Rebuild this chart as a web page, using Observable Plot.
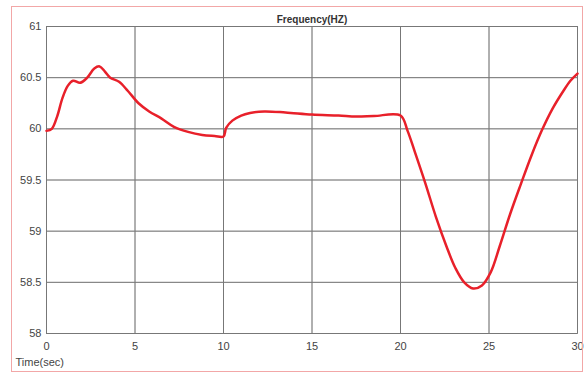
<!DOCTYPE html>
<html>
<head>
<meta charset="utf-8">
<script src="https://cdn.jsdelivr.net/npm/d3@7"></script>
<script src="https://cdn.jsdelivr.net/npm/@observablehq/plot@0.6"></script>
<style>
  html, body { margin: 0; padding: 0; background: #fff; }
  #wrap { position: relative; width: 584px; height: 373px; }
  #border { position: absolute; left: 11px; top: 6px; width: 570px; height: 364px; border: 1px solid #f2a7a7; pointer-events: none; }
</style>
</head>
<body>
<div id="wrap"><div id="border"></div></div>
<script>
const title = "Frequency(HZ)";
const xLabel = "Time(sec)";
const xTicks = [0, 5, 10, 15, 20, 25, 30];
const yTicks = [58, 58.5, 59, 59.5, 60, 60.5, 61];
const time = [0, 0.3, 0.6, 0.9, 1.2, 1.5, 1.9, 2.3, 2.7, 3.0, 3.3, 3.6, 4.1, 4.6, 5.2, 5.8, 6.5, 7.2, 8.0, 8.8, 9.5, 10.0,
  10.15, 10.5, 11.0, 11.5, 12.3, 13.5, 15.0, 16.5, 17.5, 18.5, 20.0,
  20.4, 20.8, 21.4, 22.0, 22.6, 23.1, 23.6, 24.1, 24.6, 25.1, 25.6, 26.2, 26.8, 27.4, 28.0, 28.6, 29.2, 29.6, 30.0];
const freq = [59.98, 60.0, 60.12, 60.3, 60.42, 60.47, 60.45, 60.5, 60.59, 60.61, 60.56, 60.5, 60.46, 60.37, 60.25, 60.17, 60.1, 60.02, 59.97, 59.94, 59.93, 59.925,
  60.01, 60.08, 60.13, 60.155, 60.17, 60.16, 60.14, 60.13, 60.12, 60.125, 60.13,
  59.98, 59.78, 59.47, 59.14, 58.85, 58.64, 58.5, 58.44, 58.47, 58.6, 58.85, 59.17, 59.46, 59.74, 59.99, 60.2, 60.37, 60.47, 60.54];

const data = time.map((t, i) => ({t, f: freq[i]}));

const chart = Plot.plot({
  width: 584,
  height: 373,
  marginLeft: 46,
  marginRight: 7,
  marginTop: 26,
  marginBottom: 40,
  style: {background: "transparent", fontFamily: "Liberation Sans, Arial, sans-serif", fontSize: "11px", color: "#444"},
  x: {domain: [0, 30], ticks: xTicks, label: null},
  y: {domain: [58, 61], ticks: yTicks, label: null},
  marks: [
    Plot.gridX(xTicks, {stroke: "#d4d4d4", strokeOpacity: 1}),
    Plot.gridY(yTicks, {stroke: "#d4d4d4", strokeOpacity: 1}),
    Plot.frame({stroke: "#8a8a8a"}),
    Plot.axisX({ticks: xTicks, tickSize: 0, tickPadding: 9, fill: "#444"}),
    Plot.axisY({ticks: yTicks, tickSize: 0, tickPadding: 5, fill: "#444", tickFormat: d => String(d)}),
    Plot.tickX(xTicks, {x: d => d, y1: 58, y2: 58.04, stroke: "#777"}),
    Plot.tickY(yTicks, {y: d => d, x1: 0, x2: 0.2, stroke: "#777"}),
    Plot.line(data, {x: "t", y: "f", stroke: "#e8202a", strokeWidth: 2.5, curve: "catmull-rom"}),
    Plot.text([title], {frameAnchor: "top", dy: -11, fontWeight: "bold", fontSize: 10, fill: "#333"}),
    Plot.text([xLabel], {frameAnchor: "bottom-left", textAnchor: "start", dx: -31, dy: 32, fontSize: 11, fill: "#444"})
  ]
});
document.getElementById("wrap").prepend(chart);
chart.style.position = "absolute";
chart.style.left = "0";
chart.style.top = "0";
</script>
</body>
</html>
